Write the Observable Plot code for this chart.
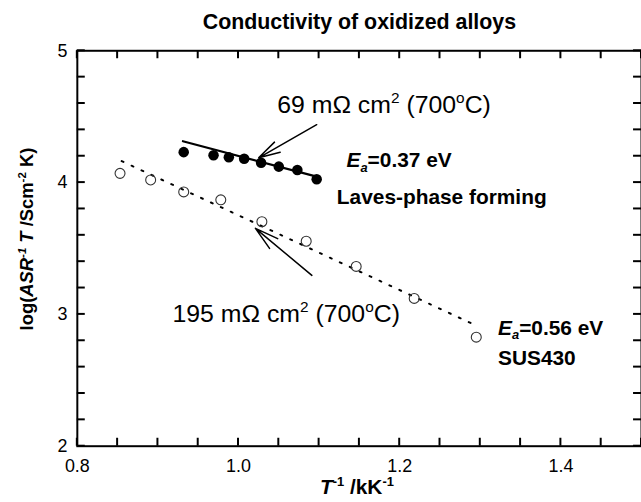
<!DOCTYPE html>
<html>
<head>
<meta charset="utf-8">
<script src="https://cdn.jsdelivr.net/npm/d3@7"></script>
<script src="https://cdn.jsdelivr.net/npm/@observablehq/plot@0.6"></script>
<style>
html, body { margin: 0; padding: 0; background: #fff; overflow: hidden; }
#chart { width: 641px; height: 502px; overflow: hidden; }
</style>
</head>
<body>
<div id="chart"></div>
<script>
// ---- data ----
const title = "Conductivity of oxidized alloys";
const xLabel = "T⁻¹ /kK⁻¹";
const yLabel = "log(ASR⁻¹ T /Scm⁻² K)";

// Laves-phase forming alloy (filled circles)
const lavesInvT = [0.932, 0.969, 0.988, 1.007, 1.028, 1.050, 1.073, 1.097];
const lavesLogY = [4.231, 4.208, 4.193, 4.181, 4.151, 4.121, 4.095, 4.025];
// SUS430 (open circles)
const susInvT = [0.853, 0.891, 0.932, 0.978, 1.029, 1.084, 1.146, 1.218, 1.295];
const susLogY = [4.070, 4.020, 3.929, 3.869, 3.703, 3.555, 3.364, 3.121, 2.827];

// fitted lines (end points)
const lavesFitX = [0.931, 1.097];
const lavesFitY = [4.314, 4.045];
const susFitX = [0.855, 1.295];
const susFitY = [4.163, 2.915];

// tick values and labels
const xTicks = [0.8, 0.85, 0.9, 0.95, 1.0, 1.05, 1.1, 1.15, 1.2, 1.25, 1.3, 1.35, 1.4, 1.45, 1.5];
const xTickLabels = [0.8, 1.0, 1.2, 1.4];
const yTicks = [2, 2.2, 2.4, 2.6, 2.8, 3, 3.2, 3.4, 3.6, 3.8, 4, 4.2, 4.4, 4.6, 4.8, 5];
const yTickLabels = [2, 3, 4, 5];

// annotations (data coordinates)
const resistanceNotes = [
  {label: "69 mΩ cm² (700°C)", x: 1.048, y: 4.590},
  {label: "195 mΩ cm² (700°C)", x: 0.918, y: 3.005}
];
const alloyNotes = [
  {label: "Eₐ=0.37 eV", x: 1.134, y: 4.166},
  {label: "Laves-phase forming", x: 1.122, y: 3.885},
  {label: "Eₐ=0.56 eV", x: 1.322, y: 2.897},
  {label: "SUS430", x: 1.322, y: 2.666}
];
const arrows = [
  {x1: 1.097, y1: 4.439, x2: 1.025, y2: 4.188},
  {x1: 1.091, y1: 3.296, x2: 1.021, y2: 3.653}
];

// rich-text formatting of labels (italic / super / subscripts)
const rich = {
  "69 mΩ cm² (700°C)": {size: 25, segs: [["69 mΩ cm", ""], ["2", "sup"], [" (700", ""], ["o", "sup"], ["C)", ""]]},
  "195 mΩ cm² (700°C)": {size: 25, segs: [["195 mΩ cm", ""], ["2", "sup"], [" (700", ""], ["o", "sup"], ["C)", ""]]},
  "Eₐ=0.37 eV": {size: 21, segs: [["E", "i"], ["a", "sub i"], ["=0.37 eV", ""]]},
  "Eₐ=0.56 eV": {size: 21, segs: [["E", "i"], ["a", "sub i"], ["=0.56 eV", ""]]},
  "T⁻¹ /kK⁻¹": {size: 21, segs: [["T", "i"], ["-1", "sup"], [" /kK", ""], ["-1", "sup"]]},
  "log(ASR⁻¹ T /Scm⁻² K)": {size: 18.5, segs: [["log(", ""], ["ASR", "i"], ["-1", "sup i"], [" ", ""], ["T", "i"], [" /Scm", ""], ["-2", "sup"], [" K)", ""]]}
};

// ---- build ----
const laves = lavesInvT.map((x, i) => ({x, y: lavesLogY[i]}));
const sus = susInvT.map((x, i) => ({x, y: susLogY[i]}));
const lavesFit = lavesFitX.map((x, i) => ({x, y: lavesFitY[i]}));
const susFit = susFitX.map((x, i) => ({x, y: susFitY[i]}));

const FONT = "'Liberation Sans', Arial, Helvetica, sans-serif";
const W = 645, H = 502, ML = 77.3, MR = 0, MT = 50.6, MB = 53.5;
const X_DOMAIN = [0.8, 1.5], Y_DOMAIN = [2, 5];
const TL = 8; // inward tick length in px

const chart = Plot.plot({
  width: W,
  height: H,
  marginLeft: ML,
  marginRight: MR,
  marginTop: MT,
  marginBottom: MB,
  x: {domain: X_DOMAIN, label: null},
  y: {domain: Y_DOMAIN, label: null},
  style: {fontFamily: FONT, fontSize: "18px", background: "#fff"},
  marks: [
    Plot.frame({stroke: "black", strokeWidth: 2}),
    // tick labels
    Plot.axisX(xTickLabels, {anchor: "bottom", tickSize: 0, tickPadding: 13, fontSize: 18, tickFormat: d => d.toFixed(1), label: null}),
    Plot.axisY(yTickLabels, {anchor: "left", tickSize: 0, tickPadding: 10, fontSize: 18, tickFormat: d => String(d), label: null}),
    Plot.line(susFit, {x: "x", y: "y", stroke: "black", strokeWidth: 2, strokeDasharray: "2,9"}),
    Plot.line(lavesFit, {x: "x", y: "y", stroke: "black", strokeWidth: 2.2}),
    Plot.dot(sus, {x: "x", y: "y", r: 5, stroke: "#333", strokeWidth: 1.1, fill: "none"}),
    Plot.dot(laves, {x: "x", y: "y", r: 5.3, fill: "black", stroke: "none"}),
    Plot.arrow(arrows, {x1: "x1", y1: "y1", x2: "x2", y2: "y2", stroke: "black", strokeWidth: 1.5, headLength: 30, headAngle: 30}),
    Plot.text(resistanceNotes, {x: "x", y: "y", text: "label", textAnchor: "start", lineAnchor: "middle", fontSize: 25, fill: "black"}),
    Plot.text(alloyNotes, {x: "x", y: "y", text: "label", textAnchor: "start", lineAnchor: "middle", fontSize: 21, fontWeight: "bold", fill: "black"}),
    Plot.text([title], {frameAnchor: "top", textAnchor: "middle", lineAnchor: "middle", dy: -28.6, fontSize: 21.5, fontWeight: "bold", fill: "black"}),
    Plot.text([yLabel], {frameAnchor: "left", textAnchor: "middle", lineAnchor: "middle", rotate: -90, dx: -50.6, dy: -9.5, fontSize: 18.5, fontWeight: "bold", fill: "black"}),
    Plot.text([xLabel], {frameAnchor: "bottom", textAnchor: "middle", lineAnchor: "middle", dx: -2.5, dy: 41.5, fontSize: 21, fontWeight: "bold", fill: "black"})
  ]
});

// inward ticks on all four sides, positioned with the plot's own x / y scales
const sx = chart.scale("x"), sy = chart.scale("y");
const xs = d3.scaleLinear().domain(sx.domain).range(sx.range);
const ys = d3.scaleLinear().domain(sy.domain).range(sy.range);
const [xLeft, xRight] = sx.range;
const [yBottom, yTop] = sy.range;
const tickG = d3.select(chart).append("g")
  .attr("aria-label", "inward ticks")
  .attr("stroke", "black")
  .attr("stroke-width", 2);
for (const v of xTicks) {
  const px = xs(v);
  tickG.append("line").attr("x1", px).attr("x2", px).attr("y1", yBottom).attr("y2", yBottom - TL);
  tickG.append("line").attr("x1", px).attr("x2", px).attr("y1", yTop).attr("y2", yTop + TL);
}
for (const v of yTicks) {
  const py = ys(v);
  tickG.append("line").attr("y1", py).attr("y2", py).attr("x1", xLeft).attr("x2", xLeft + TL);
  tickG.append("line").attr("y1", py).attr("y2", py).attr("x1", xRight).attr("x2", xRight - TL);
}

// apply rich formatting
const NS = "http://www.w3.org/2000/svg";
chart.querySelectorAll("text").forEach(t => {
  const spec = rich[t.textContent];
  if (!spec) return;
  const fs = spec.size;
  while (t.firstChild) t.removeChild(t.firstChild);
  let shift = 0;
  for (const [s, mode] of spec.segs) {
    const flags = mode.split(" ");
    const ts = document.createElementNS(NS, "tspan");
    ts.textContent = s;
    let target = 0;
    if (flags.includes("sup")) { target = -0.4 * fs; ts.setAttribute("font-size", (0.62 * fs).toFixed(1)); }
    if (flags.includes("sub")) { target = 0.22 * fs; ts.setAttribute("font-size", (0.62 * fs).toFixed(1)); }
    if (flags.includes("i")) ts.setAttribute("font-style", "italic");
    const d = target - shift;
    if (d !== 0) ts.setAttribute("dy", d.toFixed(2));
    shift = target;
    t.appendChild(ts);
  }
});

document.getElementById("chart").appendChild(chart);
</script>
</body>
</html>
